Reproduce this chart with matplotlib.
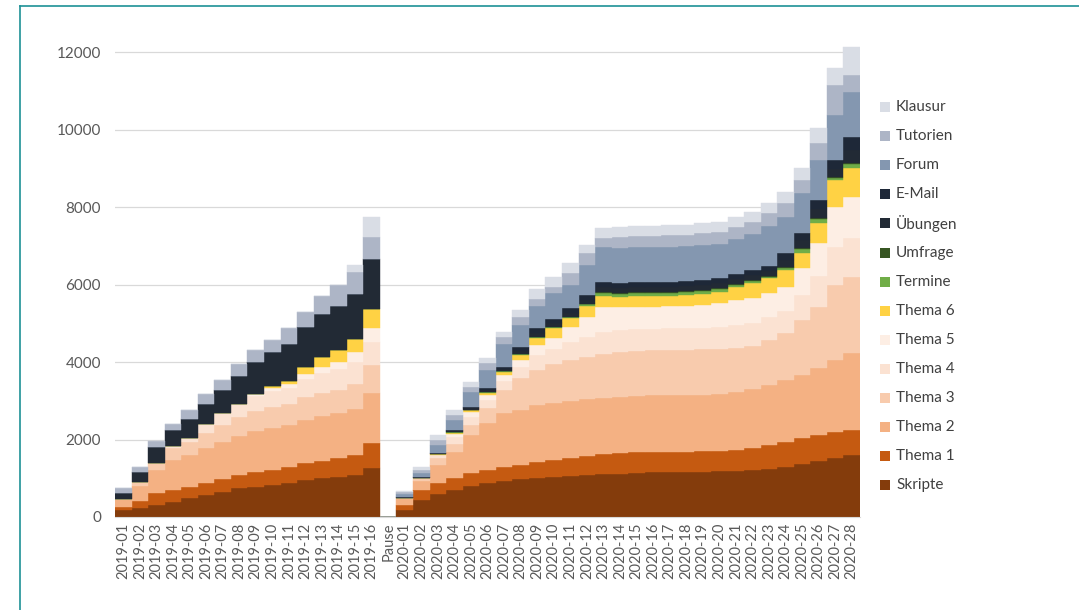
import matplotlib.pyplot as plt
from matplotlib.lines import Line2D
from matplotlib.patches import Rectangle
import numpy as np

plt.rcParams['font.family'] = ['Lato', 'DejaVu Sans']

# categories: 16 weeks 2019, pause, 28 weeks 2020
labels_2019 = ['2019-%02d' % i for i in range(1, 17)]
labels_2020 = ['2020-%02d' % i for i in range(1, 29)]
labels = labels_2019 + ['Pause'] + labels_2020

# values 2019 (16), pause (0), 2020 (28)
skripte = [180, 230, 310, 390, 490, 570, 650, 750, 775, 830, 880, 955, 1005, 1030, 1085, 1265,
           0,
           180, 440, 590, 700, 800, 880, 930, 980, 1005, 1030, 1060, 1085, 1110, 1120, 1135, 1150,
           1160, 1160, 1170, 1175, 1185, 1210, 1240, 1290, 1370, 1445, 1520, 1600]
thema1 = [80, 180, 300, 300, 290, 310, 320, 340, 390, 390, 410, 430, 440, 490, 510, 645,
          0,
          130, 260, 285, 310, 335, 335, 360, 360, 410, 440, 465, 490, 515, 530, 530, 530,
          520, 530, 535, 540, 540, 570, 620, 645, 670, 670, 670, 645]
thema2 = [210, 400, 600, 780, 820, 900, 960, 1000, 1050, 1080, 1080, 1120, 1150, 1160, 1200, 1290,
          0,
          180, 230, 465, 670, 980, 1210, 1390, 1420, 1470, 1470, 1470, 1470, 1445, 1445, 1460, 1460,
          1470, 1460, 1445, 1460, 1500, 1520, 1550, 1600, 1630, 1730, 1860, 1990]
thema3 = [0, 90, 190, 300, 330, 400, 450, 480, 520, 540, 540, 580, 600, 610, 640, 720,
          0,
          0, 80, 180, 205, 260, 390, 595, 825, 900, 1005, 1060, 1085, 1135, 1160, 1160, 1160,
          1160, 1160, 1175, 1160, 1135, 1110, 1160, 1210, 1420, 1575, 1935, 1960]
thema4 = [0, 0, 0, 60, 100, 210, 300, 350, 400, 420, 430, 480, 520, 530, 560, 600,
          0,
          0, 0, 80, 180, 210, 210, 240, 280, 390, 400, 470, 520, 570, 560, 560, 560,
          560, 560, 565, 580, 600, 600, 580, 570, 640, 800, 980, 1000]
thema5 = [0, 0, 0, 0, 0, 0, 0, 0, 45, 80, 80, 125, 165, 180, 265, 365,
          0,
          0, 0, 0, 80, 125, 125, 150, 185, 255, 270, 380, 510, 640, 600, 580, 570,
          570, 575, 575, 605, 640, 640, 630, 615, 700, 850, 1030, 1065]
thema6 = [0, 0, 0, 0, 0, 0, 0, 0, 0, 40, 100, 180, 260, 300, 340, 490,
          0,
          0, 0, 25, 25, 40, 50, 80, 130, 180, 260, 230, 285, 285, 260, 270, 270,
          270, 275, 280, 285, 335, 390, 390, 440, 390, 515, 700, 750]
termine = [0] * 16 + [0] + \
          [0, 0, 0, 25, 15, 25, 25, 25, 25, 25, 25, 50, 80, 80, 80, 80,
           80, 80, 85, 80, 50, 55, 30, 50, 100, 100, 50, 100]
umfrage = [0] * 16 + [0] + \
          [0, 0, 0, 0, 0, 0, 0, 0, 0, 0, 0, 0, 25, 25, 25, 25,
           25, 25, 25, 25, 25, 25, 25, 25, 30, 30, 25, 30]
uebungen = [150, 260, 410, 410, 500, 520, 590, 720, 820, 880, 950, 1030, 1100, 1150, 1150, 1290,
            0,
            25, 25, 25, 25, 40, 50, 50, 90, 115, 100, 115, 115, 130, 130, 130, 130,
            130, 130, 130, 130, 130, 130, 130, 180, 195, 230, 220, 335]
email = [0] * 16 + [0] + \
        [0, 0, 0, 25, 40, 50, 50, 90, 115, 105, 115, 115, 130, 130, 130, 130,
         130, 130, 135, 130, 130, 130, 130, 180, 195, 235, 220, 335]
forum = [0] * 16 + [0] + \
        [80, 100, 205, 260, 390, 465, 600, 570, 590, 670, 590, 775, 900, 900, 900, 900,
         905, 910, 910, 880, 900, 930, 1030, 930, 1030, 1030, 1160, 1160]
tutorien = [130, 130, 150, 160, 230, 260, 260, 310, 310, 310, 410, 390, 460, 540, 560, 560,
            0,
            50, 80, 130, 130, 130, 180, 175, 205, 180, 155, 310, 310, 230, 285, 285, 290,
            290, 290, 295, 310, 310, 310, 335, 360, 335, 440, 775, 440]
klausur = [0] * 14 + [190, 515] + [0] + \
          [25, 80, 130, 130, 130, 130, 130, 180, 260, 260, 260, 205, 260, 260, 260, 260,
           260, 260, 260, 260, 260, 260, 260, 285, 310, 385, 440, 720]

series = [
    ('Skripte', skripte, '#843C0C'),
    ('Thema 1', thema1, '#C55A11'),
    ('Thema 2', thema2, '#F4B183'),
    ('Thema 3', thema3, '#F8CBAD'),
    ('Thema 4', thema4, '#FBE2D2'),
    ('Thema 5', thema5, '#FDEEE4'),
    ('Thema 6', thema6, '#FFD244'),
    ('Termine', termine, '#70AD47'),
    ('Umfrage', umfrage, '#375623'),
    ('Übungen', uebungen, '#222A35'),
    ('E-Mail', email, '#1E2838'),
    ('Forum', forum, '#8497B0'),
    ('Tutorien', tutorien, '#ADB5C6'),
    ('Klausur', klausur, '#D9DDE5'),
]

W, H = 1079, 610
fig = plt.figure(figsize=(W / 100, H / 100), dpi=100)
ax = fig.add_axes([115 / W, 1 - 517 / H, 745 / W, (517 - 46.2) / H])

x = np.arange(len(labels))
bottom = np.zeros(len(labels))
for name, vals, col in series:
    vals = np.array(vals, dtype=float)
    ax.bar(x, vals, width=1.0, bottom=bottom, color=col, edgecolor=col,
           linewidth=0.3, label=name)
    bottom += vals

ax.set_xlim(-0.5, len(labels) - 0.5)
ax.set_ylim(0, 12150)
ax.set_yticks(range(0, 12001, 2000))
ax.yaxis.grid(True, color='#D9D9D9', linewidth=0.9)
ax.set_axisbelow(True)
for s in ['top', 'right', 'left']:
    ax.spines[s].set_visible(False)
ax.spines['bottom'].set_color('#D9D9D9')
ax.set_xticks(x)
ax.set_xticklabels(labels, rotation=90, fontsize=10.5, color='#595959')
ax.tick_params(axis='x', length=0, pad=4)
ax.tick_params(axis='y', length=0, pad=10, labelsize=11, labelcolor='#595959')

# legend drawn entry by entry so the rows stay evenly spaced (Ü would push them apart)
for i, (name, vals, col) in enumerate(series[::-1]):
    yc = 1 - (107 + 29.1 * i) / H
    fig.add_artist(Rectangle((880 / W, yc - 5 / H), 10 / W, 10 / H,
                             transform=fig.transFigure, color=col, lw=0))
    fig.text(896 / W, yc, name, fontsize=11, color='#404040', va='center', ha='left')

# teal frame of the screenshot box
fig.add_artist(Line2D([20 / W, 1], [1 - 6 / H, 1 - 6 / H], color='#1E9196', lw=1.2))
fig.add_artist(Line2D([20 / W, 20 / W], [0, 1 - 6 / H], color='#1E9196', lw=1.2))

fig.savefig('out.png', dpi=100)
